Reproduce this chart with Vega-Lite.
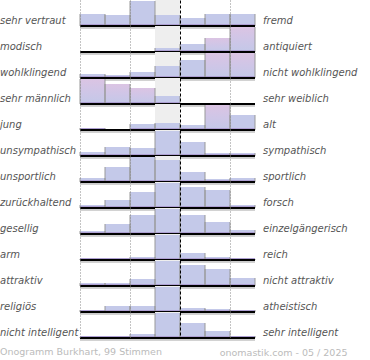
{
  "$schema": "https://vega.github.io/schema/vega-lite/v6.json",
  "padding": 0,
  "background": "white",
  "bounds": "flush",
  "config": {"view": {"stroke": null}, "font": "DejaVu Sans"},
  "title": {"text": "Onogramm Burkhart, 99 Stimmen", "orient": "bottom", "anchor": "start", "frame": "bounds", "fontSize": 9.5, "fontWeight": "normal", "color": "#bbbbbb", "font": "DejaVu Sans", "offset": -10},
  "data": {"values": [
    {"row":1,"left":"sehr vertraut","right":"fremd","col":1,"value":12},
    {"row":1,"left":"sehr vertraut","right":"fremd","col":2,"value":11},
    {"row":1,"left":"sehr vertraut","right":"fremd","col":3,"value":25},
    {"row":1,"left":"sehr vertraut","right":"fremd","col":4,"value":11},
    {"row":1,"left":"sehr vertraut","right":"fremd","col":5,"value":8},
    {"row":1,"left":"sehr vertraut","right":"fremd","col":6,"value":12},
    {"row":1,"left":"sehr vertraut","right":"fremd","col":7,"value":12},
    {"row":2,"left":"modisch","right":"antiquiert","col":1,"value":0},
    {"row":2,"left":"modisch","right":"antiquiert","col":2,"value":0},
    {"row":2,"left":"modisch","right":"antiquiert","col":3,"value":0},
    {"row":2,"left":"modisch","right":"antiquiert","col":4,"value":4},
    {"row":2,"left":"modisch","right":"antiquiert","col":5,"value":8},
    {"row":2,"left":"modisch","right":"antiquiert","col":6,"value":14},
    {"row":2,"left":"modisch","right":"antiquiert","col":7,"value":25},
    {"row":3,"left":"wohlklingend","right":"nicht wohlklingend","col":1,"value":4},
    {"row":3,"left":"wohlklingend","right":"nicht wohlklingend","col":2,"value":3},
    {"row":3,"left":"wohlklingend","right":"nicht wohlklingend","col":3,"value":6},
    {"row":3,"left":"wohlklingend","right":"nicht wohlklingend","col":4,"value":12},
    {"row":3,"left":"wohlklingend","right":"nicht wohlklingend","col":5,"value":18},
    {"row":3,"left":"wohlklingend","right":"nicht wohlklingend","col":6,"value":25},
    {"row":3,"left":"wohlklingend","right":"nicht wohlklingend","col":7,"value":25},
    {"row":4,"left":"sehr männlich","right":"sehr weiblich","col":1,"value":25},
    {"row":4,"left":"sehr männlich","right":"sehr weiblich","col":2,"value":20},
    {"row":4,"left":"sehr männlich","right":"sehr weiblich","col":3,"value":16},
    {"row":4,"left":"sehr männlich","right":"sehr weiblich","col":4,"value":8},
    {"row":4,"left":"sehr männlich","right":"sehr weiblich","col":5,"value":0},
    {"row":4,"left":"sehr männlich","right":"sehr weiblich","col":6,"value":0},
    {"row":4,"left":"sehr männlich","right":"sehr weiblich","col":7,"value":0},
    {"row":5,"left":"\u00a0jung","right":"alt","col":1,"value":2},
    {"row":5,"left":"\u00a0jung","right":"alt","col":2,"value":0},
    {"row":5,"left":"\u00a0jung","right":"alt","col":3,"value":6},
    {"row":5,"left":"\u00a0jung","right":"alt","col":4,"value":7},
    {"row":5,"left":"\u00a0jung","right":"alt","col":5,"value":5},
    {"row":5,"left":"\u00a0jung","right":"alt","col":6,"value":25},
    {"row":5,"left":"\u00a0jung","right":"alt","col":7,"value":15},
    {"row":6,"left":"unsympathisch","right":"sympathisch","col":1,"value":4},
    {"row":6,"left":"unsympathisch","right":"sympathisch","col":2,"value":9},
    {"row":6,"left":"unsympathisch","right":"sympathisch","col":3,"value":8},
    {"row":6,"left":"unsympathisch","right":"sympathisch","col":4,"value":25},
    {"row":6,"left":"unsympathisch","right":"sympathisch","col":5,"value":14},
    {"row":6,"left":"unsympathisch","right":"sympathisch","col":6,"value":3},
    {"row":6,"left":"unsympathisch","right":"sympathisch","col":7,"value":3},
    {"row":7,"left":"unsportlich","right":"sportlich","col":1,"value":4},
    {"row":7,"left":"unsportlich","right":"sportlich","col":2,"value":15},
    {"row":7,"left":"unsportlich","right":"sportlich","col":3,"value":25},
    {"row":7,"left":"unsportlich","right":"sportlich","col":4,"value":22},
    {"row":7,"left":"unsportlich","right":"sportlich","col":5,"value":10},
    {"row":7,"left":"unsportlich","right":"sportlich","col":6,"value":3},
    {"row":7,"left":"unsportlich","right":"sportlich","col":7,"value":4},
    {"row":8,"left":"zurückhaltend","right":"forsch","col":1,"value":3},
    {"row":8,"left":"zurückhaltend","right":"forsch","col":2,"value":8},
    {"row":8,"left":"zurückhaltend","right":"forsch","col":3,"value":16},
    {"row":8,"left":"zurückhaltend","right":"forsch","col":4,"value":25},
    {"row":8,"left":"zurückhaltend","right":"forsch","col":5,"value":21},
    {"row":8,"left":"zurückhaltend","right":"forsch","col":6,"value":18},
    {"row":8,"left":"zurückhaltend","right":"forsch","col":7,"value":3},
    {"row":9,"left":"gesellig","right":"einzelgängerisch","col":1,"value":3},
    {"row":9,"left":"gesellig","right":"einzelgängerisch","col":2,"value":10},
    {"row":9,"left":"gesellig","right":"einzelgängerisch","col":3,"value":19},
    {"row":9,"left":"gesellig","right":"einzelgängerisch","col":4,"value":25},
    {"row":9,"left":"gesellig","right":"einzelgängerisch","col":5,"value":19},
    {"row":9,"left":"gesellig","right":"einzelgängerisch","col":6,"value":12},
    {"row":9,"left":"gesellig","right":"einzelgängerisch","col":7,"value":4},
    {"row":10,"left":"arm","right":"reich","col":1,"value":1},
    {"row":10,"left":"arm","right":"reich","col":2,"value":1},
    {"row":10,"left":"arm","right":"reich","col":3,"value":3},
    {"row":10,"left":"arm","right":"reich","col":4,"value":25},
    {"row":10,"left":"arm","right":"reich","col":5,"value":7},
    {"row":10,"left":"arm","right":"reich","col":6,"value":3},
    {"row":10,"left":"arm","right":"reich","col":7,"value":1},
    {"row":11,"left":"attraktiv","right":"nicht attraktiv","col":1,"value":3},
    {"row":11,"left":"attraktiv","right":"nicht attraktiv","col":2,"value":3},
    {"row":11,"left":"attraktiv","right":"nicht attraktiv","col":3,"value":7},
    {"row":11,"left":"attraktiv","right":"nicht attraktiv","col":4,"value":25},
    {"row":11,"left":"attraktiv","right":"nicht attraktiv","col":5,"value":21},
    {"row":11,"left":"attraktiv","right":"nicht attraktiv","col":6,"value":17},
    {"row":11,"left":"attraktiv","right":"nicht attraktiv","col":7,"value":8},
    {"row":12,"left":"religiös","right":"atheistisch","col":1,"value":2},
    {"row":12,"left":"religiös","right":"atheistisch","col":2,"value":6},
    {"row":12,"left":"religiös","right":"atheistisch","col":3,"value":6},
    {"row":12,"left":"religiös","right":"atheistisch","col":4,"value":25},
    {"row":12,"left":"religiös","right":"atheistisch","col":5,"value":4},
    {"row":12,"left":"religiös","right":"atheistisch","col":6,"value":3},
    {"row":12,"left":"religiös","right":"atheistisch","col":7,"value":2},
    {"row":13,"left":"nicht intelligent","right":"sehr intelligent","col":1,"value":1},
    {"row":13,"left":"nicht intelligent","right":"sehr intelligent","col":2,"value":1},
    {"row":13,"left":"nicht intelligent","right":"sehr intelligent","col":3,"value":4},
    {"row":13,"left":"nicht intelligent","right":"sehr intelligent","col":4,"value":25},
    {"row":13,"left":"nicht intelligent","right":"sehr intelligent","col":5,"value":15},
    {"row":13,"left":"nicht intelligent","right":"sehr intelligent","col":6,"value":7},
    {"row":13,"left":"nicht intelligent","right":"sehr intelligent","col":7,"value":2}
  ]},
  "facet": {"row": {"field": "row", "type": "ordinal", "header": null}},
  "spacing": 0,
  "spec": {
    "width": 175,
    "height": 26,
    "layer": [
      {
        "mark": {"type": "rect", "color": "#eeeeee"},
        "encoding": {
          "x": {"datum": 3.5, "type": "quantitative"},
          "x2": {"datum": 4.5}
        }
      },
      {
        "mark": {"type": "bar", "width": 25},
        "encoding": {
          "x": {"field": "col", "type": "quantitative", "scale": {"domain": [0.5, 7.5], "padding": 0, "nice": false, "zero": false},
            "axis": {"values": [0.5, 1.5, 2.5, 3.5, 4.5, 5.5, 6.5, 7.5], "grid": true, "labels": false, "ticks": false, "domain": false, "zindex": 1,
              "gridColor": {"condition": {"test": "datum.value == 3.5 || datum.value == 4.5", "value": "#000000"}, "value": "#888888"},
              "gridDash": {"condition": {"test": "datum.value == 3.5 || datum.value == 4.5", "value": [3, 2]}, "value": [1, 2]},
              "gridWidth": 1,
              "title": "onomastik.com - 05 / 2025", "titleFont": "DejaVu Sans", "titleFontSize": 9.5, "titleFontWeight": "normal", "titleColor": "#bbbbbb",
              "titleAlign": "right", "titleBaseline": "alphabetic", "titleX": 267, "titleY": 17}},
          "y": {"field": "value", "type": "quantitative", "scale": {"domain": [0, 26]}, "axis": null},
          "color": {
            "condition": {
              "test": "indexof(['2-6','2-7','3-6','3-7','4-1','4-2','4-3','5-6'], datum.row + '-' + datum.col) >= 0",
              "value": {"gradient": "linear", "x1": 0, "y1": 0, "x2": 0, "y2": 1, "stops": [{"offset": 0, "color": "#dbc4e3"}, {"offset": 0.5, "color": "#cfc6e7"}, {"offset": 1, "color": "#c3c8e8"}]}
            },
            "value": "#c4c9e9"
          }
        }
      },
      {
        "mark": {"type": "bar", "width": 25, "color": "#ad9fd2"},
        "encoding": {
          "x": {"field": "col", "type": "quantitative"},
          "y": {"datum": 0, "type": "quantitative"},
          "y2": {"datum": 2},
          "opacity": {"condition": {"test": "datum.value > 0", "value": 1}, "value": 0}
        }
      },
      {
        "mark": {"type": "rule", "color": "#999999", "xOffset": -12.5},
        "encoding": {
          "x": {"field": "col", "type": "quantitative"},
          "y": {"field": "value", "type": "quantitative"},
          "y2": {"datum": 0}
        }
      },
      {
        "mark": {"type": "rule", "color": "#999999", "xOffset": 12.5},
        "encoding": {
          "x": {"field": "col", "type": "quantitative"},
          "y": {"field": "value", "type": "quantitative"},
          "y2": {"datum": 0}
        }
      },
      {
        "mark": {"type": "rule", "color": "#cccccc", "strokeWidth": 1.5, "yOffset": 1.5},
        "encoding": {"y": {"datum": 0, "type": "quantitative"}}
      },
      {
        "mark": {"type": "rule", "color": "#000000", "strokeWidth": 1.5},
        "encoding": {"y": {"datum": 0, "type": "quantitative"}}
      },
      {
        "transform": [{"filter": "datum.col == 1"}],
        "mark": {"type": "text", "align": "left", "baseline": "alphabetic", "dx": -80, "font": "DejaVu Sans", "fontSize": 10, "fontStyle": "italic", "color": "#555555"},
        "encoding": {
          "text": {"field": "left"},
          "x": {"datum": 0.5, "type": "quantitative"},
          "y": {"datum": 2.5, "type": "quantitative"}
        }
      },
      {
        "transform": [{"filter": "datum.col == 1"}],
        "mark": {"type": "text", "align": "left", "baseline": "alphabetic", "dx": 8, "font": "DejaVu Sans", "fontSize": 10, "fontStyle": "italic", "color": "#555555"},
        "encoding": {
          "text": {"field": "right"},
          "x": {"datum": 7.5, "type": "quantitative"},
          "y": {"datum": 2.5, "type": "quantitative"}
        }
      }
    ]
  }
}
